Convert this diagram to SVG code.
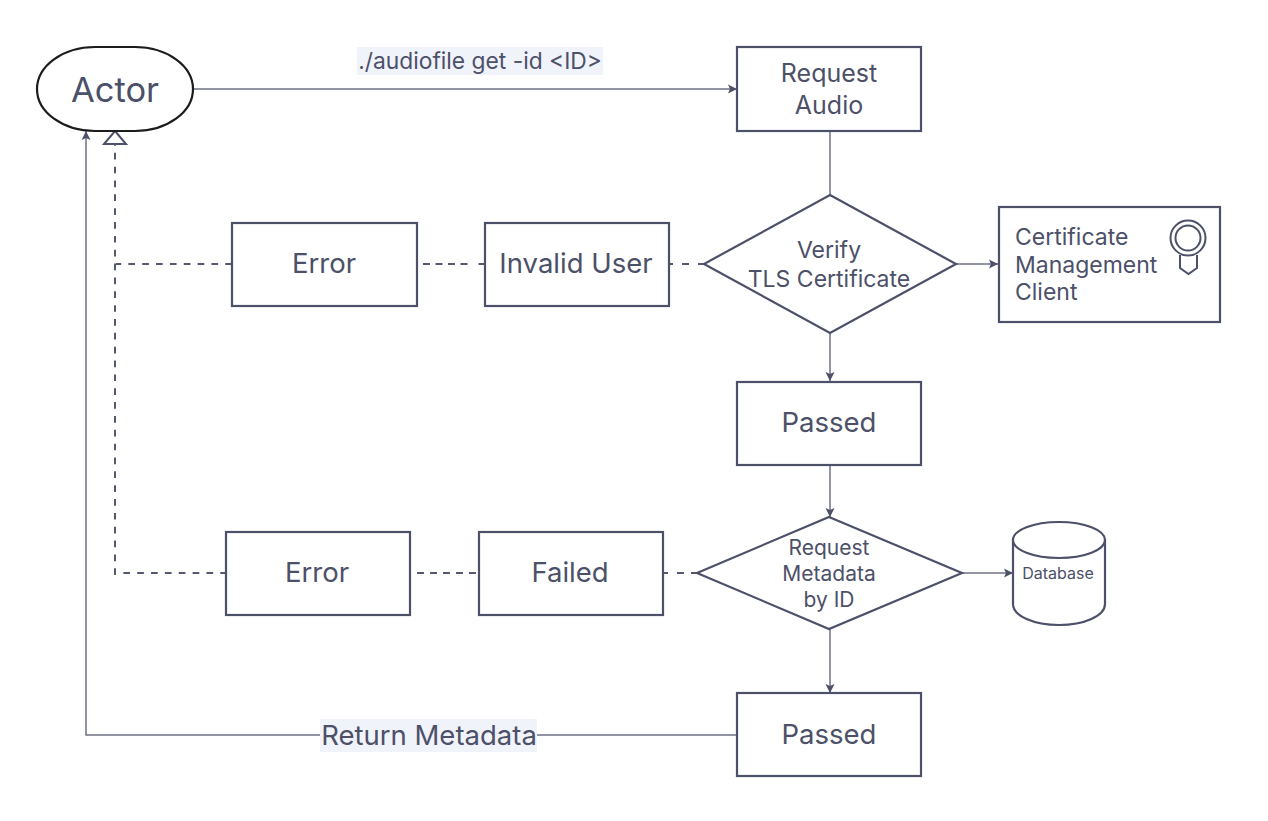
<svg xmlns="http://www.w3.org/2000/svg" width="1268" height="821" viewBox="0 0 1268 821">
<style>
text{font-family:Inter,"Liberation Sans",sans-serif;fill:#4c5068;text-anchor:middle}
.n{fill:#fff;stroke:#4c5068;stroke-width:2.2}
.c{fill:none;stroke:#6f7286;stroke-width:1.5}
.d{fill:none;stroke:#55596f;stroke-width:2;stroke-dasharray:6.700 7.150}
.t{font-size:27.5px}
.s{font-size:23px}
.r{font-size:25px}
.l{font-size:23px;text-anchor:start}
.q{font-size:21px}
</style>
<defs>
<marker id="a" markerWidth="12" markerHeight="12" refX="10" refY="6" orient="auto" markerUnits="userSpaceOnUse"><path d="M1 1.500L10 6L1 10.500L3 6Z" fill="#4c5068"/></marker>
</defs>
<rect width="1268" height="821" fill="#fff"/>
<g id="connectors">
<path class="c" d="M193 89H737" marker-end="url(#a)"/>
<path class="c" d="M830 131V195"/>
<path class="c" d="M956 264H998" marker-end="url(#a)"/>
<path class="c" d="M830 333V381" marker-end="url(#a)"/>
<path class="c" d="M830 465V517" marker-end="url(#a)"/>
<path class="c" d="M962 573H1013" marker-end="url(#a)"/>
<path class="c" d="M830 629V693" marker-end="url(#a)"/>
<path class="c" d="M737 735H86V131" marker-end="url(#a)"/>
<path class="d" style="stroke-dasharray:4 9 7 9 6" d="M669 264H704"/>
<path class="d" style="stroke-dasharray:7 5.500 7 5.500 7 5.500 7 11 7" d="M423 264H485"/>
<path class="d" d="M232 264H116"/>
<path class="d" style="stroke-dasharray:4 9 7 7 6" d="M664 573H697"/>
<path class="d" style="stroke-dasharray:7 6" d="M417 573H479"/>
<path class="d" d="M227 573H123"/>
<path class="d" d="M115 575V145"/>
<path d="M115 131L126 144H104Z" fill="#fff" stroke="#4c5068" stroke-width="2"/>
</g>
<g id="actor"><rect x="37" y="47" width="156" height="84" rx="58" ry="42" fill="#fff" stroke="#1c1c1c" stroke-width="2.2"/><text x="115" y="102" style="font-size:34.500px">Actor</text></g>
<g id="label-get"><rect x="357" y="47" width="246" height="28" fill="#f1f3fb"/><text x="480" y="69" style="font-size:22.800px">./audiofile get -id &lt;ID&gt;</text></g>
<g id="request-audio"><rect class="n" x="737" y="47" width="184" height="84"/><text class="r" x="829" y="82">Request</text><text class="r" x="829" y="114">Audio</text></g>
<g id="verify"><path class="n" d="M830 195L956 264L830 333L704 264Z"/><text class="s" x="829" y="258">Verify</text><text class="s" x="829" y="287">TLS Certificate</text></g>
<g id="cert-client"><rect class="n" x="999" y="207" width="221" height="115"/>
<text class="l" x="1015" y="245">Certificate</text><text class="l" x="1015" y="273">Management</text><text class="l" x="1015" y="300">Client</text>
<circle cx="1188" cy="238" r="17.500" fill="none" stroke="#4c5068" stroke-width="2"/><circle cx="1188" cy="238" r="12.500" fill="none" stroke="#4c5068" stroke-width="2"/><path d="M1180 255V268L1188.500 274L1197 268V255" fill="none" stroke="#4c5068" stroke-width="2"/></g>
<g id="invalid-user"><rect class="n" x="485" y="223" width="184" height="83"/><text class="t" x="576" y="273">Invalid User</text></g>
<g id="error-1"><rect class="n" x="232" y="223" width="185" height="83"/><text class="t" x="324" y="273">Error</text></g>
<g id="passed-1"><rect class="n" x="737" y="382" width="184" height="83"/><text class="t" x="829" y="432">Passed</text></g>
<g id="request-metadata"><path class="n" d="M829 517L962 573L829 629L697 573Z"/><text class="q" x="829" y="555">Request</text><text class="q" x="829" y="581">Metadata</text><text class="q" x="829" y="607">by ID</text></g>
<g id="database"><path class="n" d="M1013 540V604C1013 616 1034 625 1059 625C1084 625 1105 616 1105 604V540Z"/><ellipse class="n" cx="1059" cy="540" rx="46" ry="18"/><text x="1058" y="579" style="font-size:16px">Database</text></g>
<g id="failed"><rect class="n" x="479" y="532" width="184" height="83"/><text class="t" x="570" y="582">Failed</text></g>
<g id="error-2"><rect class="n" x="226" y="532" width="184" height="83"/><text class="t" x="317" y="582">Error</text></g>
<g id="passed-2"><rect class="n" x="737" y="693" width="184" height="83"/><text class="t" x="829" y="744">Passed</text></g>
<g id="label-return"><rect x="320" y="719" width="217" height="33" fill="#f1f3fb"/><text class="t" x="429" y="745">Return Metadata</text></g>
</svg>
